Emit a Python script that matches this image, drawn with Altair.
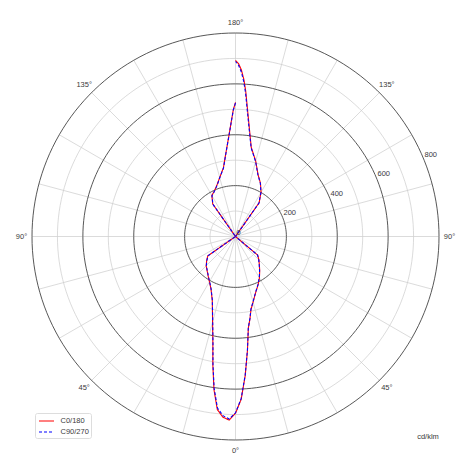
import altair as alt
import numpy as np
import pandas as pd

# ---- data (gamma in degrees, negative = left half-plane) ----
gamma = [-180, -179, -178, -176, -174, -172, -170, -165, -160, -155, -150, -145, -140,
         -90, -60, -55, -50, -45, -40, -35, -30, -25, -20, -15, -12, -10, -8, -6, -4, -2,
         0, 2, 4, 6, 8, 10, 12, 15, 20, 25, 30, 35, 40, 45, 50, 55, 90,
         140, 145, 150, 155, 160, 165, 170, 172, 174, 176, 177, 178, 179, 180]

c0_180 = [527, 498, 456, 390, 342, 304, 274, 240, 214, 197, 186, 156, 0,
          0, 0, 133, 148, 163, 174, 188, 205, 228, 267, 348, 428, 513, 608, 684, 712, 722,
          695, 640, 548, 450, 363, 328, 293, 267, 233, 210, 188, 166, 146, 130, 114, 0, 0,
          0, 162, 201, 232, 259, 307, 356, 407, 476, 574, 620, 656, 680, 692]

c90_270 = [525, 497, 455, 389, 341, 303, 273, 239, 213, 196, 185, 155, 0,
           0, 0, 132, 147, 162, 173, 187, 204, 227, 266, 346, 426, 510, 603, 678, 706, 718,
           693, 638, 546, 449, 362, 327, 292, 266, 232, 209, 187, 165, 145, 129, 113, 0, 0,
           0, 161, 200, 231, 258, 305, 354, 403, 470, 566, 612, 648, 674, 688]

series_names = ["C0/180", "C90/270"]
series_colors = ["#ff0000", "#0000ff"]

major_r = [200, 400, 600, 800]
minor_r = [100, 300, 500, 700]
spoke_step = 15
angle_ticks = [0, 45, 90, 135, 180, -135, -90, -45]
angle_labels = ["0°", "45°", "90°", "135°", "180°", "135°", "90°", "45°"]
r_ticks = [0, 200, 400, 600, 800]
unit_label = "cd/klm"

# ---- geometry of the view ----
W = H = 454
R_PX = 203.5
K = 800 / R_PX
CXP, CYP = 227.5, 228.5
x_dom = [-CXP * K, (W - CXP) * K]
y_dom = [-(H - CYP) * K, CYP * K]
xs = alt.Scale(domain=x_dom, nice=False, zero=False)
ys = alt.Scale(domain=y_dom, nice=False, zero=False)

# ---- curves ----
rows = []
for name, vals in zip(series_names, [c0_180, c90_270]):
    for i, (g, v) in enumerate(zip(gamma, vals)):
        t = np.radians(g)
        rows.append({"series": name, "idx": i, "x": v * np.sin(t), "y": -v * np.cos(t)})
curves = pd.DataFrame(rows)

# ---- grid ----
circ = []
for kind, radii in (("major", major_r), ("minor", minor_r)):
    for r in radii:
        for j, a in enumerate(range(0, 361, 2)):
            t = np.radians(a)
            circ.append({"kind": kind, "r": r, "j": j, "x": r * np.cos(t), "y": r * np.sin(t)})
circ = pd.DataFrame(circ)

spokes = pd.DataFrame([{"x": 0.0, "y": 0.0,
                        "x2": 800 * np.cos(np.radians(a)), "y2": 800 * np.sin(np.radians(a))}
                       for a in range(0, 360, spoke_step)])

LR = 214 * K
alab = pd.DataFrame([{"t": t, "x": LR * np.sin(np.radians(a)), "y": -LR * np.cos(np.radians(a))}
                     for a, t in zip(angle_ticks, angle_labels)])
rlab = pd.DataFrame([{"t": str(r), "x": r * np.cos(np.radians(22.5)), "y": r * np.sin(np.radians(22.5))}
                     for r in r_ticks])

FONT = "Liberation Sans"
TXT = "#3a3a3a"

minor_layer = alt.Chart(circ[circ.kind == "minor"]).mark_line(color="#cccccc", strokeWidth=0.7).encode(
    x=alt.X("x:Q", scale=xs, axis=None), y=alt.Y("y:Q", scale=ys, axis=None),
    detail="r:N", order="j:Q")
spoke_layer = alt.Chart(spokes).mark_rule(color="#cccccc", strokeWidth=0.7).encode(
    x=alt.X("x:Q", scale=xs, axis=None), y=alt.Y("y:Q", scale=ys, axis=None), x2="x2:Q", y2="y2:Q")
major_layer = alt.Chart(circ[circ.kind == "major"]).mark_line(color="#444444", strokeWidth=0.9).encode(
    x=alt.X("x:Q", scale=xs, axis=None), y=alt.Y("y:Q", scale=ys, axis=None),
    detail="r:N", order="j:Q")

legend = alt.Legend(title=None, orient="none", legendX=27, legendY=405,
                    symbolType="M-1.5,0H1.5", symbolSize=100, symbolStrokeWidth=1.1,
                    symbolOffset=3.5, symbolFillColor="transparent",
                    labelFontSize=7.5, labelFont=FONT, labelColor=TXT,
                    padding=2, rowPadding=1, labelOffset=8,
                    strokeColor="#dddddd", fillColor="white", cornerRadius=2)

curve_layer = alt.Chart(curves).mark_line(strokeWidth=1.1).encode(
    x=alt.X("x:Q", scale=xs, axis=None), y=alt.Y("y:Q", scale=ys, axis=None),
    order="idx:Q",
    color=alt.Color("series:N", scale=alt.Scale(domain=series_names, range=series_colors),
                    legend=legend),
    strokeDash=alt.StrokeDash("series:N", scale=alt.Scale(domain=series_names, range=[[1, 0], [3, 2]]),
                              legend=legend),
)

alab_layer = alt.Chart(alab).mark_text(fontSize=7.5, font=FONT, color=TXT, align="center",
                                       baseline="middle").encode(
    x=alt.X("x:Q", scale=xs, axis=None), y=alt.Y("y:Q", scale=ys, axis=None), text="t:N")
rlab_layer = alt.Chart(rlab).mark_text(fontSize=7.5, font=FONT, color=TXT, align="left",
                                       baseline="bottom", dx=1).encode(
    x=alt.X("x:Q", scale=xs, axis=None), y=alt.Y("y:Q", scale=ys, axis=None), text="t:N")
unit_layer = alt.Chart(pd.DataFrame({"t": [unit_label]})).mark_text(
    fontSize=7.5, font=FONT, color=TXT, align="center", baseline="middle").encode(
    x=alt.value(420), y=alt.value(429), text="t:N")

chart = alt.layer(minor_layer, spoke_layer, major_layer, curve_layer,
                  alab_layer, rlab_layer, unit_layer).properties(
    width=W, height=H, padding=0, autosize=alt.AutoSizeParams(type="none")
).configure_view(stroke=None)

chart.save("out.html", embed_options={"renderer": "svg", "actions": False})
